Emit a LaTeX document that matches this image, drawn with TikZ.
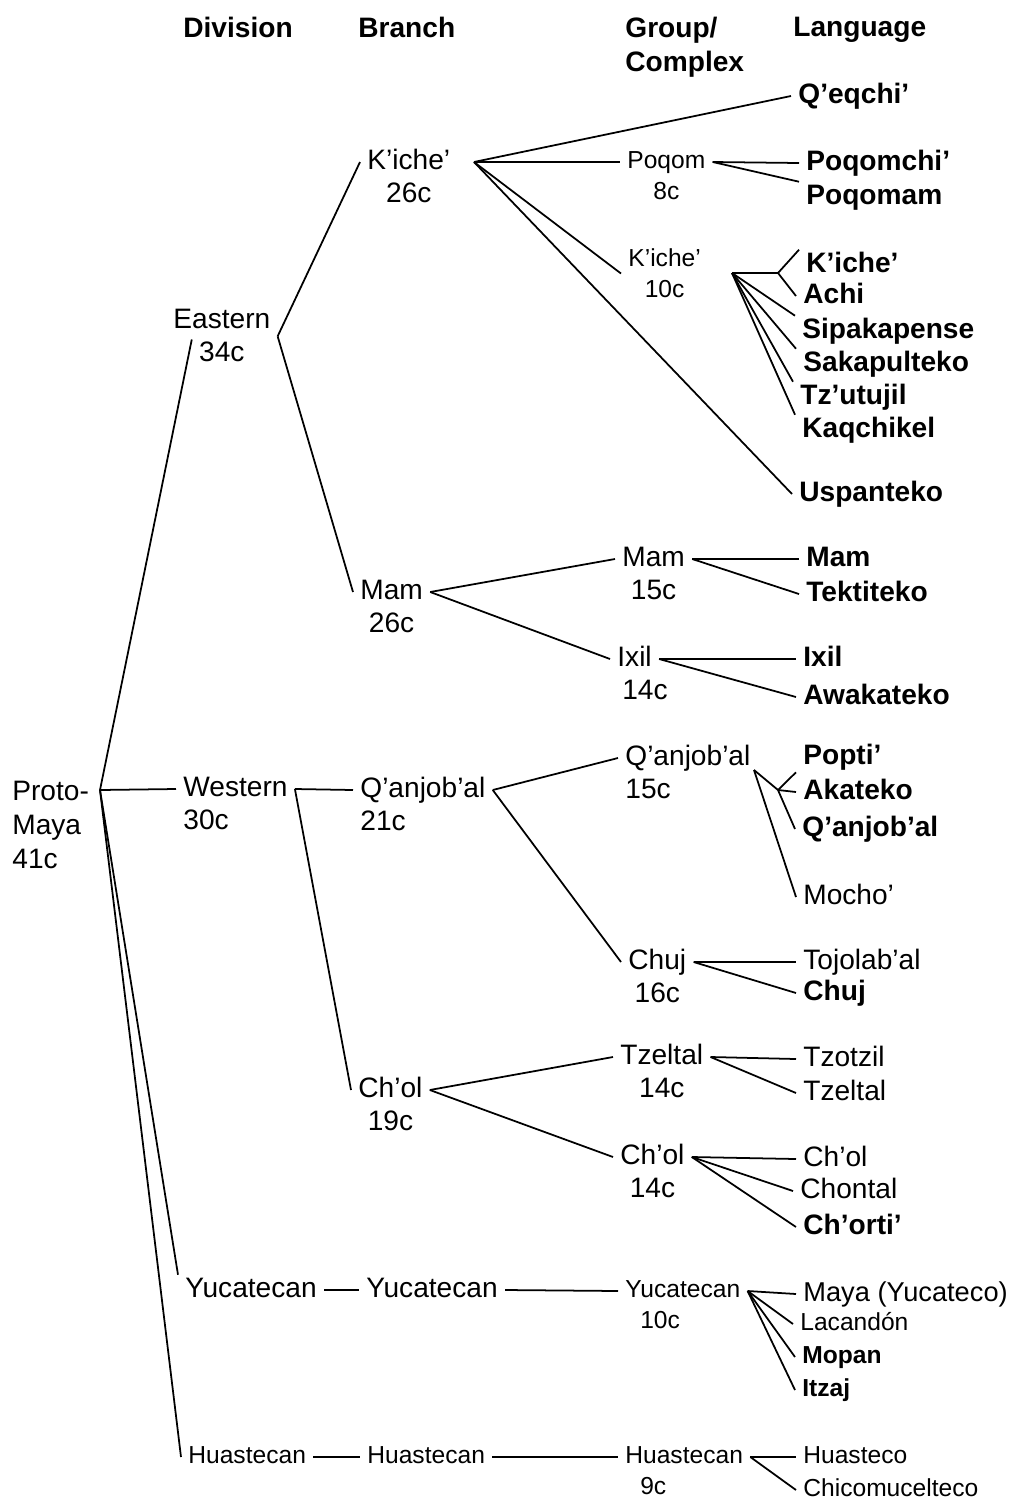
\documentclass[tikz,border=0pt]{standalone}
\usepackage{fontspec}
\setmainfont{Liberation Sans}
\usetikzlibrary{positioning}

\begin{document}
\begin{tikzpicture}[
    x=0.02cm, y=-0.02cm,
    every node/.style={inner xsep=4pt, inner ysep=0.5pt},
    lbl/.style={anchor=west, font=\fontsize{16}{19}\selectfont, text height=12pt, text depth=4pt},
    lblsm/.style={anchor=west, font=\fontsize{14}{17}\selectfont, text height=10.5pt, text depth=3.5pt},
    lng/.style={lbl, font=\fontsize{16}{19}\selectfont\bfseries},
    lngsm/.style={lblsm, font=\fontsize{14}{17}\selectfont\bfseries},
    hdr/.style={anchor=north west, align=left, font=\fontsize{16}{19.5}\selectfont\bfseries},
    root/.style={anchor=north west, align=left, font=\fontsize{16}{19.3}\selectfont},
    link/.style={line width=1pt}
  ]
    \useasboundingbox (0,0) rectangle (1025,1502);

    \node[hdr] (h-div) at (176,16) {Division};
    \node[hdr] (h-br) at (351,16) {Branch};
    \node[hdr] (h-grp) at (618,16) {Group/\\Complex};
    \node[hdr] (h-lng) at (786,16) {Language};

    \node[root] (proto) at (5,780) {Proto-\\Maya\\41c};
    \coordinate (pj) at (100,790);

    \node[lbl] (eastern) at (166,321) {Eastern};
    \node[lbl, below=1.8pt of eastern] (eastern-c) {34c};
    \node[lbl] (western) at (176,789) {Western};
    \node[lbl, below right=1.8pt and 0pt of western.south west] (western-c) {30c};
    \node[lbl] (yucD) at (178,1290) {Yucatecan};
    \node[lblsm] (huaD) at (181,1457) {Huastecan};

    \node[lbl] (kicheB) at (360,162) {K'iche'};
    \node[lbl, below=1.8pt of kicheB] (kicheB-c) {26c};
    \node[lbl] (mamB) at (353,592) {Mam};
    \node[lbl, below=1.8pt of mamB] (mamB-c) {26c};
    \node[lbl] (qanB) at (353,790) {Q'anjob'al};
    \node[lbl, below right=1.8pt and 0pt of qanB.south west] (qanB-c) {21c};
    \node[lbl] (cholB) at (351,1090) {Ch'ol};
    \node[lbl, below=1.8pt of cholB] (cholB-c) {19c};
    \node[lbl] (yucB) at (359,1290) {Yucatecan};
    \node[lblsm] (huaB) at (360,1457) {Huastecan};

    \node[lblsm] (poqom) at (620,162) {Poqom};
    \node[lblsm, below=2.5pt of poqom] (poqom-c) {8c};
    \node[lblsm] (kicheG) at (621,260) {K'iche'};
    \node[lblsm, below=2.5pt of kicheG] (kicheG-c) {10c};
    \node[lbl] (mamG) at (615,559) {Mam};
    \node[lbl, below=1.8pt of mamG] (mamG-c) {15c};
    \node[lbl] (ixilG) at (610,659) {Ixil};
    \node[lbl, below right=1.8pt and 2.8pt of ixilG.south west] (ixilG-c) {14c};
    \node[lbl] (qanG) at (618,758) {Q'anjob'al};
    \node[lbl, below right=1.8pt and 0pt of qanG.south west] (qanG-c) {15c};
    \node[lbl] (chujG) at (621,962) {Chuj};
    \node[lbl, below=1.8pt of chujG] (chujG-c) {16c};
    \node[lbl] (tzeltalG) at (613,1057) {Tzeltal};
    \node[lbl, below=1.8pt of tzeltalG] (tzeltalG-c) {14c};
    \node[lbl] (cholG) at (613,1157) {Ch'ol};
    \node[lbl, below=1.8pt of cholG] (cholG-c) {14c};
    \node[lblsm] (yucG) at (618,1291) {Yucatecan};
    \node[lblsm, below right=2.5pt and 8.5pt of yucG.south west] (yucG-c) {10c};
    \node[lblsm] (huaG) at (618,1457) {Huastecan};
    \node[lblsm, below right=2.5pt and 8.5pt of huaG.south west] (huaG-c) {9c};

    \node[lng] (qeqchi) at (791,96) {Q'eqchi'};
    \node[lng] (poqomchi) at (799,163) {Poqomchi'};
    \node[lng] (poqomam) at (799,197) {Poqomam};
    \node[lng] (kicheL) at (799,265) {K'iche'};
    \node[lng] (achi) at (796,296) {Achi};
    \node[lng] (sipakapense) at (795,331) {Sipakapense};
    \node[lng] (sakapulteko) at (796,364) {Sakapulteko};
    \node[lng] (tzutujil) at (793,397) {Tz'utujil};
    \node[lng] (kaqchikel) at (795,430) {Kaqchikel};
    \node[lng] (uspanteko) at (792,494) {Uspanteko};
    \node[lng] (mamL) at (799,559) {Mam};
    \node[lng] (tektiteko) at (799,594) {Tektiteko};
    \node[lng] (ixilL) at (796,659) {Ixil};
    \node[lng] (awakateko) at (796,697) {Awakateko};
    \node[lng] (popti) at (796,757) {Popti'};
    \node[lng] (akateko) at (796,792) {Akateko};
    \node[lng] (qanL) at (795,829) {Q'anjob'al};
    \node[lbl] (mocho) at (796,897) {Mocho'};
    \node[lbl] (tojolabal) at (796,962) {Tojolab'al};
    \node[lng] (chujL) at (796,993) {Chuj};
    \node[lbl] (tzotzil) at (796,1059) {Tzotzil};
    \node[lbl] (tzeltalL) at (796,1093) {Tzeltal};
    \node[lbl] (cholL) at (796,1159) {Ch'ol};
    \node[lbl] (chontal) at (793,1191) {Chontal};
    \node[lng] (chorti) at (796,1227) {Ch'orti'};
    \node[lbl, font=\fontsize{15.5}{18}\selectfont] (maya) at (796,1294) {Maya (Yucateco)};
    \node[lblsm] (lacandon) at (793,1324) {Lacandón};
    \node[lngsm] (mopan) at (795,1357) {Mopan};
    \node[lngsm] (itzaj) at (795,1390) {Itzaj};
    \node[lblsm] (huasteco) at (796,1457) {Huasteco};
    \node[lblsm] (chicomucelteco) at (796,1490) {Chicomucelteco};

    \coordinate (kj) at (474,162);
    \coordinate (kgj) at (732,273);
    \coordinate (ks) at (778,273);
    \coordinate (qgj) at (754,770);
    \coordinate (qs) at (778,790);

    \draw[link] (pj) -- (eastern-c.north west);
    \draw[link] (pj) -- (western.west);
    \draw[link] (pj) -- (yucD.north west);
    \draw[link] (pj) -- (huaD.west);

    \draw[link] (eastern.south east) -- (kicheB.west);
    \draw[link] (eastern.south east) -- (mamB.west);
    \draw[link] (western.east) -- (qanB.west);
    \draw[link] (western.east) -- (cholB.west);
    \draw[link] (yucD.east) -- (yucB.west);
    \draw[link] (huaD.east) -- (huaB.west);

    \draw[link] (kj) -- (qeqchi.west);
    \draw[link] (kj) -- (poqom.west);
    \draw[link] (kj) -- (kicheG.south west);
    \draw[link] (kj) -- (uspanteko.west);
    \draw[link] (mamB.east) -- (mamG.west);
    \draw[link] (mamB.east) -- (ixilG.west);
    \draw[link] (qanB.east) -- (qanG.west);
    \draw[link] (qanB.east) -- (chujG.west);
    \draw[link] (cholB.east) -- (tzeltalG.west);
    \draw[link] (cholB.east) -- (cholG.west);
    \draw[link] (yucB.east) -- (yucG.west);
    \draw[link] (huaB.east) -- (huaG.west);

    \draw[link] (poqom.east) -- (poqomchi.west);
    \draw[link] (poqom.east) -- (poqomam.north west);
    \draw[link] (kgj) -- (ks);
    \draw[link] (ks) -- (kicheL.north west);
    \draw[link] (ks) -- (achi.west);
    \draw[link] (kgj) -- (sipakapense.north west);
    \draw[link] (kgj) -- (sakapulteko.north west);
    \draw[link] (kgj) -- (tzutujil.north west);
    \draw[link] (kgj) -- (kaqchikel.north west);
    \draw[link] (mamG.east) -- (mamL.west);
    \draw[link] (mamG.east) -- (tektiteko.west);
    \draw[link] (ixilG.east) -- (ixilL.west);
    \draw[link] (ixilG.east) -- (awakateko.west);
    \draw[link] (qgj) -- (qs);
    \draw[link] (qs) -- (popti.south west);
    \draw[link] (qs) -- (akateko.west);
    \draw[link] (qs) -- (qanL.west);
    \draw[link] (qgj) -- (mocho.west);
    \draw[link] (chujG.east) -- (tojolabal.west);
    \draw[link] (chujG.east) -- (chujL.west);
    \draw[link] (tzeltalG.east) -- (tzotzil.west);
    \draw[link] (tzeltalG.east) -- (tzeltalL.west);
    \draw[link] (cholG.east) -- (cholL.west);
    \draw[link] (cholG.east) -- (chontal.west);
    \draw[link] (cholG.east) -- (chorti.west);
    \draw[link] (yucG.east) -- (maya.west);
    \draw[link] (yucG.east) -- (lacandon.west);
    \draw[link] (yucG.east) -- (mopan.west);
    \draw[link] (yucG.east) -- (itzaj.west);
    \draw[link] (huaG.east) -- (huasteco.west);
    \draw[link] (huaG.east) -- (chicomucelteco.west);
  \end{tikzpicture}
\end{document}
